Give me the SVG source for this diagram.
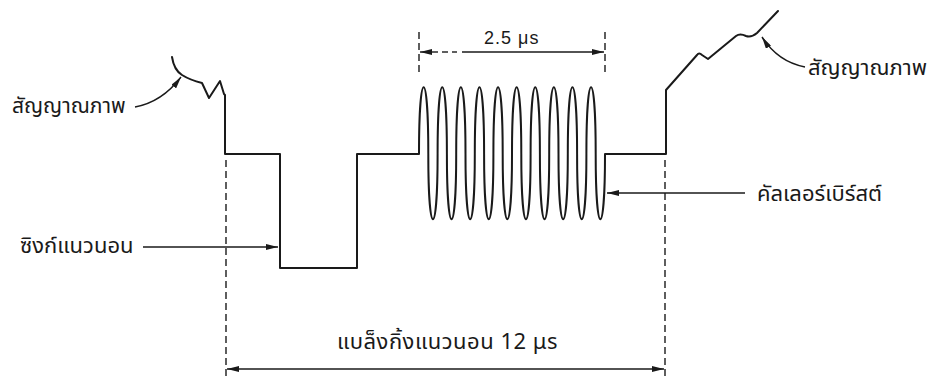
<svg xmlns="http://www.w3.org/2000/svg" width="945" height="376" viewBox="0 0 945 376">
<style>
.wave{fill:none;stroke:#1a1a1a;stroke-width:2;stroke-linejoin:round;stroke-linecap:round}
.dash{fill:none;stroke:#1a1a1a;stroke-width:1.4;stroke-dasharray:7 4}
.arr{fill:none;stroke:#1a1a1a;stroke-width:1.4}
.lbl{font-family:"Noto Sans Thai","Noto Sans","Liberation Sans",sans-serif;font-size:22px;fill:#1a1a1a}
.num{font-family:"Liberation Sans",Arial,sans-serif;font-size:18px;letter-spacing:1px;fill:#1a1a1a}
</style>
<defs>
<marker id="ah" viewBox="0 0 12 6" refX="12" refY="3" markerWidth="12" markerHeight="6" markerUnits="userSpaceOnUse" orient="auto-start-reverse">
<path d="M0,0 L12,3 L0,6 Z" fill="#1a1a1a"/>
</marker>
</defs>
<rect width="945" height="376" fill="#ffffff"/>
<g id="waveform">
<path class="wave" d="M172,57 Q174,70 182,75 Q190,80 202,83 L209,98 L220,81 L224,94 L225,95 L225,154 L280,154 L280,268 L357,268 L357,154 L419,154
C419,65 428.3,65 428.3,154 C428.3,241 437.6,241 437.6,154
C437.6,65 446.9,65 446.9,154 C446.9,241 456.2,241 456.2,154
C456.2,65 465.5,65 465.5,154 C465.5,241 474.8,241 474.8,154
C474.8,65 484.1,65 484.1,154 C484.1,241 493.4,241 493.4,154
C493.4,65 502.7,65 502.7,154 C502.7,241 512,241 512,154
C512,65 521.3,65 521.3,154 C521.3,241 530.6,241 530.6,154
C530.6,65 539.9,65 539.9,154 C539.9,241 549.2,241 549.2,154
C549.2,65 558.5,65 558.5,154 C558.5,241 567.8,241 567.8,154
C567.8,65 577.1,65 577.1,154 C577.1,241 586.4,241 586.4,154
C586.4,65 595.7,65 595.7,154 C595.7,241 605,241 605,154
L666,154 L666,90 L697,55 Q699,52 702,55 L708,59 L736,36 Q740,33 746,36 Q751,38 757,33 L778,11"/>
</g>
<g id="connectors">
<line class="dash" x1="226" y1="160" x2="226" y2="376"/>
<line class="dash" x1="665" y1="160" x2="665" y2="376"/>
<line class="dash" x1="419" y1="32" x2="419" y2="72"/>
<line class="dash" x1="605" y1="32" x2="605" y2="72"/>
<path class="arr" d="M135,107 Q162,102 181,77" marker-end="url(#ah)"/>
<path class="arr" d="M805,67 Q778,62 762,37" marker-end="url(#ah)"/>
<line class="arr" x1="143" y1="247" x2="278" y2="247" marker-end="url(#ah)"/>
<line class="arr" x1="745" y1="193" x2="607" y2="193" marker-end="url(#ah)"/>
<line class="arr" x1="227" y1="369" x2="664" y2="369" marker-start="url(#ah)" marker-end="url(#ah)"/>
<line class="arr" x1="438" y1="52" x2="420" y2="52" marker-end="url(#ah)"/>
<line class="arr" x1="442" y1="52" x2="448" y2="52"/>
<line class="arr" x1="452" y1="52" x2="457" y2="52"/>
<line class="arr" x1="462" y1="52" x2="604" y2="52" marker-end="url(#ah)"/>
</g>
<g id="labels">
<text class="lbl" x="12" y="113" style="font-size:21px">สัญญาณภาพ</text>
<text class="lbl" x="808" y="75">สัญญาณภาพ</text>
<text class="lbl" x="20" y="253">ซิงก์แนวนอน</text>
<text class="lbl" x="757" y="201">คัลเลอร์เบิร์สต์</text>
<text class="lbl" x="337" y="349" style="letter-spacing:0.5px">แบล็งกิ้งแนวนอน 12 μs</text>
<text class="num" x="484" y="44">2.5 μs</text>
</g>
</svg>
